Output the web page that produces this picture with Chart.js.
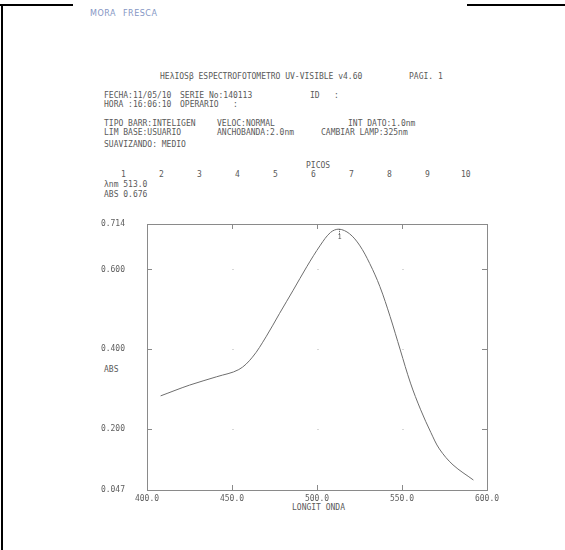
<!DOCTYPE html>
<html>
<head>
<meta charset="utf-8">
<script src="https://cdn.jsdelivr.net/npm/chart.js@4"></script>
<style>
    body { margin: 0; background: #fff; }
    #page { position: relative; width: 565px; height: 550px; overflow: hidden; background: #fff; }
    #page canvas { position: absolute; left: 0; top: 0; }
    .t { position: absolute; font: 8px "DejaVu Sans Mono", monospace; color: #5a5a5a; white-space: pre; line-height: 9px; }
    .hand { position: absolute; font: 8px "DejaVu Sans", sans-serif; color: #8496c4; letter-spacing: 0.5px; }
    .bar { position: absolute; background: #000; }
</style>
</head>
<body>
<div id="page">
    <div class="bar" style="left:0;top:4px;width:73px;height:2px"></div>
    <div class="bar" style="left:467px;top:4px;width:98px;height:2px"></div>
    <div class="bar" style="left:1px;top:4px;width:2px;height:546px"></div>

    <div class="hand" style="left:90px;top:9px">MORA</div>
    <div class="hand" style="left:123px;top:9px">FRESCA</div>

    <div class="t" style="left:160px;top:72px">HEλIOSβ ESPECTROFOTOMETRO UV-VISIBLE v4.60</div>
    <div class="t" style="left:409px;top:72px">PAGI. 1</div>

    <div class="t" style="left:104px;top:91px">FECHA:11/05/10</div>
    <div class="t" style="left:180px;top:91px">SERIE No:140113</div>
    <div class="t" style="left:310px;top:91px">ID   :</div>
    <div class="t" style="left:104px;top:100px">HORA :16:06:10</div>
    <div class="t" style="left:180px;top:100px">OPERARIO   :</div>

    <div class="t" style="left:104px;top:119px">TIPO BARR:INTELIGEN</div>
    <div class="t" style="left:217px;top:119px">VELOC:NORMAL</div>
    <div class="t" style="left:348px;top:119px">INT DATO:1.0nm</div>
    <div class="t" style="left:104px;top:128px">LIM BASE:USUARIO</div>
    <div class="t" style="left:217px;top:128px">ANCHOBANDA:2.0nm</div>
    <div class="t" style="left:321px;top:128px">CAMBIAR LAMP:325nm</div>
    <div class="t" style="left:104px;top:140px">SUAVIZANDO: MEDIO</div>

    <div class="t" style="left:306px;top:161px">PICOS</div>
    <div id="peaks"></div>
    <div class="t" style="left:104px;top:180px">λnm 513.0</div>
    <div class="t" style="left:104px;top:190px">ABS 0.676</div>

    <div class="t" style="left:104px;top:365px">ABS</div>
    <div class="t" style="left:292px;top:503px">LONGIT ONDA</div>

    <canvas id="chart" width="565" height="550"></canvas>
</div>
<script>
// spectrum (nm, absorbance)
const wavelengths = [408, 425, 441, 454, 462, 470, 478, 486, 494, 502, 508, 513,
                     519, 525, 531, 537, 543, 549, 555, 561, 567, 572, 580, 592];
const absorbance = [0.283, 0.310, 0.331, 0.349, 0.380, 0.431, 0.490, 0.548, 0.607, 0.661, 0.693, 0.701,
                    0.690, 0.661, 0.615, 0.557, 0.482, 0.398, 0.315, 0.248, 0.191, 0.150, 0.110, 0.072];

const xTicks = [400, 450, 500, 550, 600];
const yTicks = [0.047, 0.2, 0.4, 0.6, 0.714];
const peakNumbers = ['1', '2', '3', '4', '5', '6', '7', '8', '9', '10'];
const peakNm = 513;
const peakLabel = '1';

const INK = '#5e5e5e';

// PICOS row
const peaksRow = document.getElementById('peaks');
peakNumbers.forEach((n, i) => {
    const d = document.createElement('div');
    d.className = 't';
    d.textContent = n;
    d.style.left = (121 + i * 38 - (n.length - 1) * 2) + 'px';
    d.style.top = '170px';
    peaksRow.appendChild(d);
});

const framePlugin = {
    id: 'frame',
    afterDatasetsDraw(chart) {
        const { ctx, chartArea: a, scales: { x, y } } = chart;
        ctx.save();
        ctx.strokeStyle = '#8a8a8a';
        ctx.lineWidth = 1;
        ctx.strokeRect(a.left + 0.5, a.top + 0.5, a.right - a.left, a.bottom - a.top);

        ctx.beginPath();
        xTicks.slice(1, -1).forEach(v => {
            const px = Math.round(x.getPixelForValue(v)) + 0.5;
            ctx.moveTo(px, a.bottom); ctx.lineTo(px, a.bottom - 5);
            ctx.moveTo(px, a.top); ctx.lineTo(px, a.top + 5);
        });
        yTicks.slice(1, -1).forEach(v => {
            const py = Math.round(y.getPixelForValue(v)) + 0.5;
            ctx.moveTo(a.left, py); ctx.lineTo(a.left + 5, py);
            ctx.moveTo(a.right, py); ctx.lineTo(a.right - 5, py);
        });
        ctx.stroke();

        // faint grid dots
        ctx.fillStyle = '#d8d8d8';
        xTicks.slice(1, -1).forEach(vx => {
            yTicks.slice(1, -1).forEach(vy => {
                ctx.fillRect(Math.round(x.getPixelForValue(vx)), Math.round(y.getPixelForValue(vy)), 2, 1);
            });
        });

        // peak marker
        const i = wavelengths.indexOf(peakNm);
        const px = Math.round(x.getPixelForValue(peakNm)) + 0.5;
        const py = y.getPixelForValue(absorbance[i]);
        ctx.setLineDash([1, 1]);
        ctx.strokeStyle = '#555';
        ctx.beginPath();
        ctx.moveTo(px, py); ctx.lineTo(px, py + 5);
        ctx.stroke();
        ctx.setLineDash([]);
        ctx.fillStyle = '#555';
        ctx.font = '7px "DejaVu Sans Mono", monospace';
        ctx.textAlign = 'center';
        ctx.textBaseline = 'top';
        ctx.fillText(peakLabel, px, py + 5);
        ctx.restore();
    }
};

new Chart(document.getElementById('chart'), {
    type: 'line',
    data: {
        datasets: [{
            data: wavelengths.map((w, i) => ({ x: w, y: absorbance[i] })),
            borderColor: '#6e6e6e',
            borderWidth: 1,
            pointRadius: 0,
            fill: false,
            tension: 0.35
        }]
    },
    options: {
        responsive: false,
        animation: false,
        layout: { padding: { left: 90, top: 224, right: 78, bottom: 40 } },
        plugins: { legend: { display: false }, tooltip: { enabled: false } },
        scales: {
            x: {
                type: 'linear',
                min: 400,
                max: 600,
                afterBuildTicks: scale => { scale.ticks = xTicks.map(v => ({ value: v })); },
                afterFit: scale => { scale.height = 20; },
                grid: { display: false, drawTicks: false },
                border: { display: false },
                ticks: {
                    padding: 4,
                    maxRotation: 0,
                    autoSkip: false,
                    color: INK,
                    font: { family: 'DejaVu Sans Mono', size: 8 },
                    callback: v => v.toFixed(1)
                }
            },
            y: {
                min: 0.047,
                max: 0.714,
                afterBuildTicks: scale => { scale.ticks = yTicks.map(v => ({ value: v })); },
                afterFit: scale => { scale.width = 57; },
                grid: { display: false, drawTicks: false },
                border: { display: false },
                ticks: {
                    padding: 22,
                    autoSkip: false,
                    color: INK,
                    font: { family: 'DejaVu Sans Mono', size: 8 },
                    callback: v => v.toFixed(3)
                }
            }
        }
    },
    plugins: [framePlugin]
});
</script>
</body>
</html>
